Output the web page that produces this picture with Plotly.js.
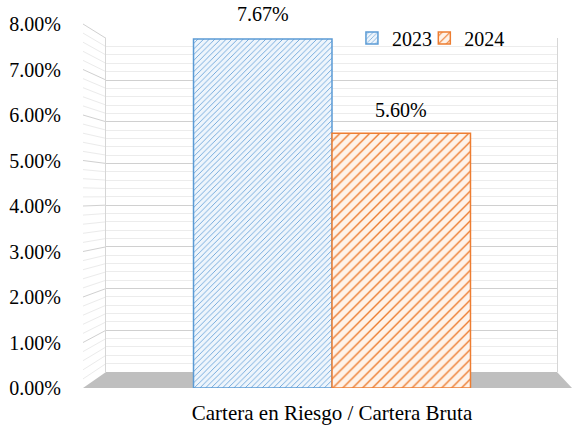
<!DOCTYPE html>
<html>
<head>
<meta charset="utf-8">
<script src="https://cdn.plot.ly/plotly-3.0.1.min.js"></script>
<style>html,body{margin:0;padding:0;background:#fff;}#chart{width:573px;height:426px;}</style>
</head>
<body>
<div id="chart"></div>
<script>
// ---- data ----
const categories = ['Cartera en Riesgo / Cartera Bruta'];
const seriesNames = ['2023', '2024'];
const values2023 = [0.0767];
const values2024 = [0.0560];
const yTickValues = [0, 0.01, 0.02, 0.03, 0.04, 0.05, 0.06, 0.07, 0.08];

// ---- geometry / style ----
const FONT = 'Liberation Serif, Times New Roman, serif';
const Y_MAX = 0.08;
const BACK_X = [0.047, 0.9693];   // back wall x-domain (paper)
const BACK_Y = [0.044, 0.9607];   // back wall y-domain (paper)
const BAR_W = 0.2832;
const BLUE = '#5B9BD5', ORANGE = '#ED7D31';

const traces = [
  { // invisible helper that creates the back-wall subplot
    type: 'scatter', x: [0.5], y: [0], xaxis: 'x', yaxis: 'y',
    mode: 'markers', marker: {opacity: 0}, showlegend: false, hoverinfo: 'skip'
  },
  {
    type: 'bar', name: seriesNames[0], x: categories, y: values2023,
    xaxis: 'x2', yaxis: 'y2', offset: -BAR_W, width: BAR_W, legend: 'legend',
    marker: {color: BLUE, line: {color: BLUE, width: 1.5},
      pattern: {shape: '/', fgcolor: BLUE, bgcolor: '#eef5fc', size: 4, solidity: 0.2}}
  },
  {
    type: 'bar', name: seriesNames[1], x: categories, y: values2024,
    xaxis: 'x2', yaxis: 'y2', offset: 0, width: BAR_W, legend: 'legend2',
    marker: {color: ORANGE, line: {color: ORANGE, width: 1.5},
      pattern: {shape: '/', fgcolor: ORANGE, bgcolor: '#fef3ea', size: 7, solidity: 0.2}}
  }
];

// decorative pseudo-3D floor and side wall
const shapes = [];
shapes.push({
  type: 'path', xref: 'paper', yref: 'paper', layer: 'below',
  path: `M 0,0 L 1,0 L ${BACK_X[1]},${BACK_Y[0]} L ${BACK_X[0]},${BACK_Y[0]} Z`,
  fillcolor: '#bfbfbf', line: {width: 0}
});
const minorStep = 0.002;
const nSteps = Math.round(Y_MAX / minorStep);
for (let k = 1; k <= nSteps; k++) {
  const v = k * minorStep;
  const major = (k % 5 === 0);
  const yf = v / Y_MAX;
  const yb = BACK_Y[0] + (v / Y_MAX) * (BACK_Y[1] - BACK_Y[0]);
  shapes.push({
    type: 'line', xref: 'paper', yref: 'paper', layer: 'below',
    x0: 0, y0: yf, x1: BACK_X[0], y1: yb,
    line: {color: major ? '#d0d0d0' : '#ebebeb', width: 1}
  });
}

const annotations = [
  {xref: 'x2', yref: 'y2', x: -BAR_W / 2, y: values2023[0], text: (values2023[0] * 100).toFixed(2) + '%',
   showarrow: false, yanchor: 'bottom', yshift: 12, font: {family: FONT, size: 20, color: '#000'}},
  {xref: 'x2', yref: 'y2', x: BAR_W / 2, y: values2024[0], text: (values2024[0] * 100).toFixed(2) + '%',
   showarrow: false, yanchor: 'bottom', yshift: 10, font: {family: FONT, size: 20, color: '#000'}}
];

const layout = {
  width: 573, height: 426,
  margin: {l: 83, r: 1, t: 24, b: 38, pad: 0},
  paper_bgcolor: '#ffffff', plot_bgcolor: 'rgba(0,0,0,0)',
  font: {family: FONT, size: 20, color: '#000'},
  showlegend: true,
  barmode: 'group',
  xaxis: {domain: BACK_X, range: [0, 1], anchor: 'y', showgrid: false, zeroline: false,
          showticklabels: false, showline: false, ticks: '', fixedrange: true},
  yaxis: {domain: BACK_Y, range: [0, Y_MAX], anchor: 'x', dtick: 0.01, showgrid: true,
          gridcolor: '#d0d0d0', gridwidth: 1, zeroline: false, showticklabels: false, ticks: '',
          showline: true, mirror: true, linecolor: '#d6d6d6', linewidth: 1,
          minor: {dtick: 0.002, showgrid: true, gridcolor: '#ececec', gridwidth: 1}},
  xaxis2: {domain: [0, 1], anchor: 'y2', type: 'category', range: [-0.5092, 0.4908],
           showgrid: false, zeroline: false, showline: false,
           ticks: 'outside', ticklen: 6, tickcolor: 'rgba(0,0,0,0)',
           tickfont: {family: FONT, size: 21, color: '#000'}},
  yaxis2: {domain: [0, 1], anchor: 'x2', range: [0, Y_MAX], tickvals: yTickValues, tickformat: '.2%',
           showgrid: false, zeroline: false, showline: false,
           ticks: 'outside', ticklen: 17, tickcolor: 'rgba(0,0,0,0)',
           tickfont: {family: FONT, size: 20, color: '#000'}},
  legend: {orientation: 'h', x: 0.550, xanchor: 'left', y: 0.9615, yanchor: 'middle',
           bgcolor: 'rgba(0,0,0,0)', borderwidth: 0, font: {family: FONT, size: 20, color: '#000'}},
  legend2: {orientation: 'h', x: 0.698, xanchor: 'left', y: 0.9615, yanchor: 'middle',
           bgcolor: 'rgba(0,0,0,0)', borderwidth: 0, font: {family: FONT, size: 20, color: '#000'}},
  shapes: shapes,
  annotations: annotations
};

Plotly.newPlot('chart', traces, layout, {staticPlot: true, displayModeBar: false});
</script>
</body>
</html>
